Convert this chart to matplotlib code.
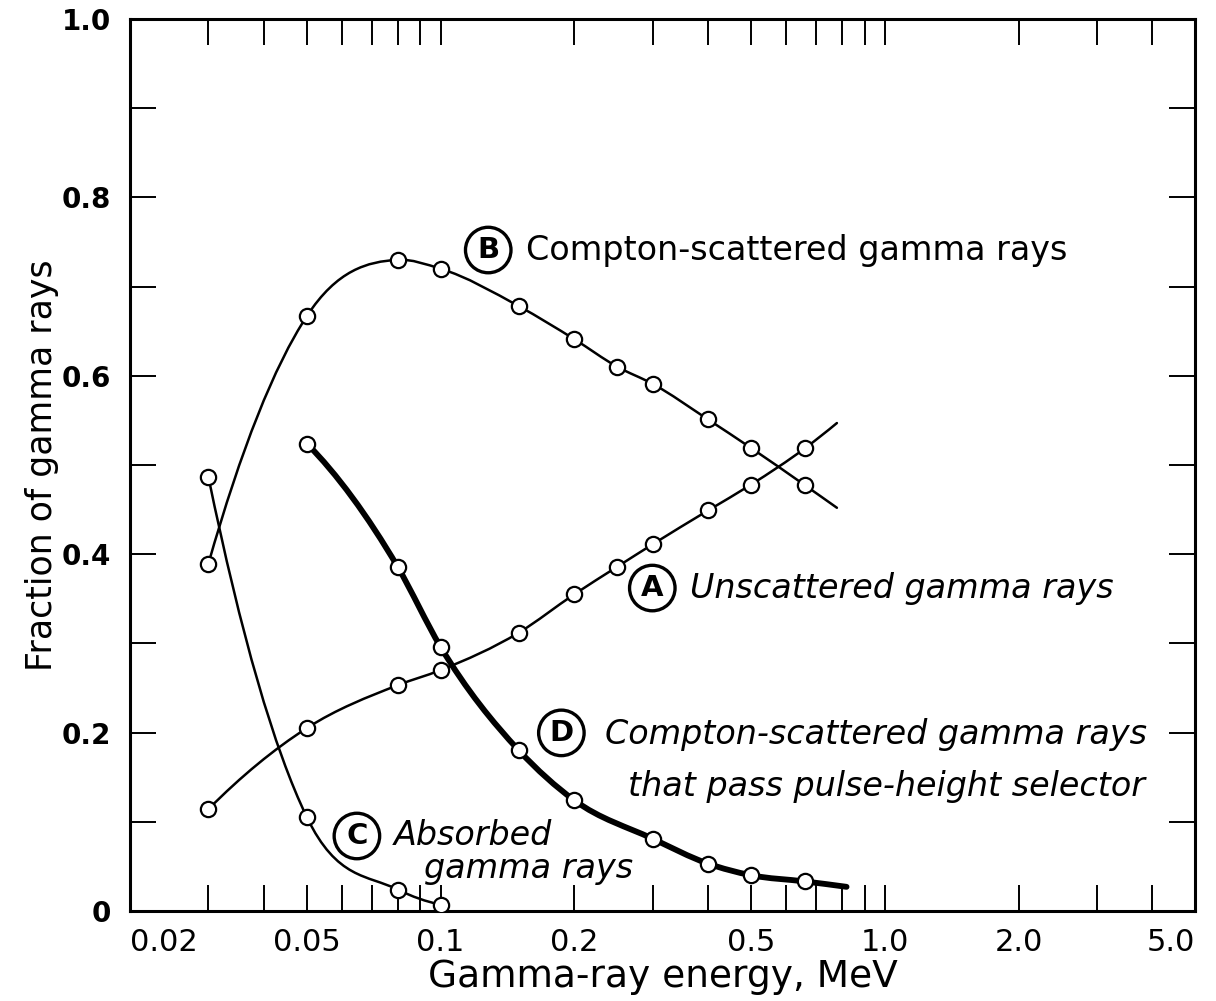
import numpy as np
import matplotlib
matplotlib.use('Agg')
import matplotlib.pyplot as plt
from matplotlib.path import Path
from matplotlib.patches import PathPatch

# Values (energy in MeV, fraction of gamma rays)
energy_ab = [0.03, 0.05, 0.08, 0.1, 0.15, 0.2, 0.25, 0.3, 0.4, 0.5, 0.662]
unscattered = [0.114, 0.205, 0.253, 0.270, 0.312, 0.355, 0.386, 0.411, 0.449, 0.478, 0.519]
scattered = [0.389, 0.667, 0.730, 0.720, 0.678, 0.641, 0.610, 0.591, 0.551, 0.519, 0.477]
unscattered_end = (0.78, 0.547)
scattered_end = (0.78, 0.452)

energy_c = [0.03, 0.05, 0.08, 0.1]
absorbed = [0.487, 0.105, 0.024, 0.007]

energy_d = [0.05, 0.08, 0.1, 0.15, 0.2, 0.3, 0.4, 0.5, 0.662]
passed = [0.524, 0.386, 0.296, 0.180, 0.124, 0.081, 0.053, 0.040, 0.033]
passed_end = (0.82, 0.027)

x_ticks = [0.02, 0.05, 0.1, 0.2, 0.5, 1.0, 2.0, 5.0]
x_tick_labels = ['0.02', '0.05', '0.1', '0.2', '0.5', '1.0', '2.0', '5.0']
x_minor = [0.03, 0.04, 0.06, 0.07, 0.08, 0.09, 0.3, 0.4, 0.6, 0.7, 0.8, 0.9, 3.0, 4.0]
y_ticks = [0, 0.2, 0.4, 0.6, 0.8, 1.0]
y_tick_labels = ['0', '0.2', '0.4', '0.6', '0.8', '1.0']
y_minor = [0.1, 0.3, 0.5, 0.7, 0.9]


def smooth_path(xs, ys):
    """Hermite curve through the points (bezier segments in log-x space), like a french curve"""
    u = np.log10(xs)
    y = np.asarray(ys, dtype=float)
    h = np.diff(u)
    d = np.diff(y) / h
    m = np.zeros(len(u))
    for i in range(1, len(u) - 1):
        m[i] = (h[i - 1] * d[i] + h[i] * d[i - 1]) / (h[i - 1] + h[i])
    if len(u) > 2:
        m[0] = ((2 * h[0] + h[1]) * d[0] - h[0] * d[1]) / (h[0] + h[1])
        m[-1] = ((2 * h[-1] + h[-2]) * d[-1] - h[-1] * d[-2]) / (h[-1] + h[-2])
    else:
        m[:] = d[0]
    verts = [(u[0], y[0])]
    codes = [Path.MOVETO]
    for i in range(len(u) - 1):
        verts += [(u[i] + h[i] / 3, y[i] + m[i] * h[i] / 3),
                  (u[i + 1] - h[i] / 3, y[i + 1] - m[i + 1] * h[i] / 3),
                  (u[i + 1], y[i + 1])]
        codes += [Path.CURVE4] * 3
    verts = np.array(verts)
    verts[:, 0] = 10 ** verts[:, 0]
    return Path(verts, codes)


def draw_curve(ax, xs, ys, end, lw):
    lx = list(xs) + ([end[0]] if end else [])
    ly = list(ys) + ([end[1]] if end else [])
    ax.add_patch(PathPatch(smooth_path(lx, ly), fill=False, edgecolor='black',
                           lw=lw, capstyle='round', zorder=2))
    ax.plot(xs, ys, linestyle='none', marker='o', markersize=11,
            markerfacecolor='white', markeredgecolor='black',
            markeredgewidth=1.6, zorder=3)


fig = plt.figure(figsize=(12.16, 10.01), dpi=100)
ax = fig.add_axes([0.107, 0.09, 0.876, 0.891])

draw_curve(ax, energy_ab, scattered, scattered_end, 1.8)
draw_curve(ax, energy_ab, unscattered, unscattered_end, 1.8)
draw_curve(ax, energy_c, absorbed, None, 1.8)
draw_curve(ax, energy_d, passed, passed_end, 4.2)

ax.set_xscale('log')
ax.set_xlim(0.02, 5.0)
ax.set_ylim(0, 1.0)

ax.set_xticks(x_ticks)
ax.set_xticklabels(x_tick_labels, fontsize=22)
xt = ax.get_xticklabels()
xt[0].set_horizontalalignment('left')
xt[-1].set_horizontalalignment('right')
ax.set_xticks(x_minor, minor=True)
ax.set_xticklabels([], minor=True)
ax.set_yticks(y_ticks)
ax.set_yticklabels(y_tick_labels, fontweight='bold', fontsize=20)
ax.set_yticks(y_minor, minor=True)

ax.tick_params(which='both', direction='in', length=19, width=1.4,
               top=True, right=True)
ax.tick_params(axis='x', which='major', pad=12)
ax.tick_params(axis='y', which='major', pad=14)
for s in ax.spines.values():
    s.set_linewidth(2.2)

ax.set_xlabel('Gamma-ray energy, MeV', fontsize=27, labelpad=2)
ax.set_ylabel('Fraction of gamma rays', fontsize=25, labelpad=2)

# circled letters and curve labels
circ = dict(boxstyle='circle,pad=0.3', fc='white', ec='black', lw=2.4)
letter = dict(fontsize=21, fontweight='bold', ha='center', va='center', bbox=circ)
lab = dict(fontsize=24, va='center', ha='left')
ax.text(0.128, 0.741, 'B', **letter)
ax.text(0.156, 0.741, 'Compton-scattered gamma rays', **lab)

ax.text(0.2996, 0.362, 'A', **letter)
ax.text(0.365, 0.362, 'Unscattered gamma rays', style='italic', **lab)

ax.text(0.187, 0.1996, 'D', **letter)
ax.text(3.9, 0.198, 'Compton-scattered gamma rays', style='italic',
        fontsize=24, va='center', ha='right')
ax.text(3.85, 0.14, 'that pass pulse-height selector', style='italic',
        fontsize=24, va='center', ha='right')

ax.text(0.0648, 0.084, 'C', **letter)
ax.text(0.0785, 0.084, 'Absorbed', style='italic', **lab)
ax.text(0.0916, 0.047, 'gamma rays', style='italic', **lab)

fig.savefig('out.png', dpi=100)
